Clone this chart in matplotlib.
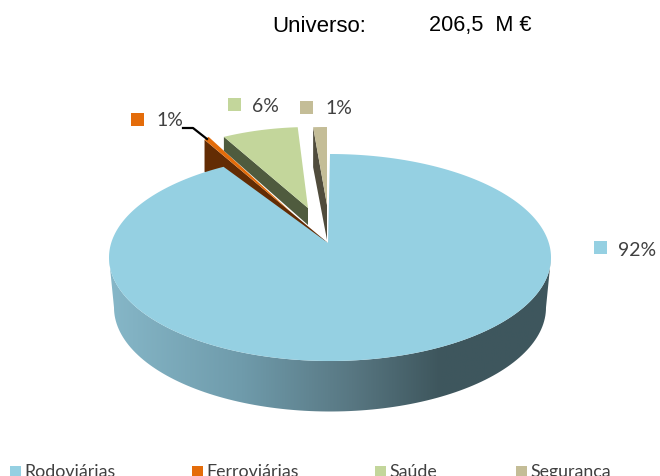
import numpy as np
import matplotlib
matplotlib.use("Agg")
import matplotlib.pyplot as plt
from matplotlib.colors import LinearSegmentedColormap
from matplotlib.patches import Polygon, Rectangle

categories = ["Rodoviárias", "Ferroviárias", "Saúde", "Segurança"]
shares = [92, 1, 6, 1]
share_labels = ["92%", "1%", "6%", "1%"]
title_left = "Universo:"
title_right = "206,5  M €"

top_colors = ["#95D0E2", "#E46C0A", "#C3D69B", "#C4BD97"]
side_colors = [None, "#632C04", "#4F5B3E", "#504C3C"]
label_color = "#404040"

# pie geometry in pixels
cx, cy, rx, ry = 330, 257.5, 221, 103.5
depth = 50
tip = (328, 243)
# arc shift, tip shift, arc squeeze and wall heights of the pulled out slices
shift = {1: (-19, -27), 2: (-12, -27), 3: (-3, -27)}
tip_shift = {1: (-36, -30), 2: (-20, -35), 3: (-1, -38)}
squeeze = {1: 0.33, 2: 0.92, 3: 1.0}
wall_h = {1: (32, 0), 2: (14, 17), 3: (40, 35)}
# label square x, y, text x, text y
label_pos = [(594, 241, 618, 250), (131, 113, 156, 121), (228, 98, 252, 106), (300, 101, 325, 109)]
legend_x = [10, 192, 375, 516]


def arc(a0, a1, n=60):
    # angles are clockwise from 12 o'clock, in percent of the pie
    t = np.radians(np.linspace(a0, a1, n) * 3.6)
    return np.column_stack([cx + rx * np.sin(t), cy - ry * np.cos(t)])


fig = plt.figure(figsize=(6.6, 4.76), dpi=100)
ax = fig.add_axes([0, 0, 1, 1])
ax.axis("off")

ends = np.cumsum(shares)
starts = ends - np.array(shares)

# pulled out slices, side first, then top
for i in [1, 2, 3]:
    pts = arc(starts[i], ends[i], 20)
    pts[:, 0] = pts[0, 0] + (pts[:, 0] - pts[0, 0]) * squeeze[i]
    pts = pts + shift[i]
    v = np.array(tip) + tip_shift[i]
    first = pts[0]
    h0, h1 = wall_h[i]
    if i == 1:
        side = [first, first + [0, h0], tip, v]
    else:
        side = [first, first + [0, h0], v + [0, h1], v]
    ax.add_patch(Polygon(side, closed=True, fc=side_colors[i], ec="none", zorder=2 + i))
    ax.add_patch(Polygon(np.vstack([pts, v]), closed=True, fc=top_colors[i], ec="none", zorder=2.5 + i))

# main slice wall with the dark gradient
t = np.linspace(90, 270, 120)
upper = np.column_stack([cx + rx * np.sin(np.radians(t)), cy - ry * np.cos(np.radians(t))])
lower = np.column_stack([cx + 216 * np.sin(np.radians(t)), cy + depth - 104 * np.cos(np.radians(t))])
wall = Polygon(np.vstack([upper, lower[::-1]]), closed=True, fc="none", ec="none", zorder=6)
ax.add_patch(wall)
cmap = LinearSegmentedColormap.from_list(
    "wall", [(0, "#86B7C8"), (0.3, "#6F9BAB"), (0.55, "#587782"), (0.75, "#3E565D"), (1, "#3E575E")])
img = ax.imshow(np.linspace(0, 1, 256).reshape(1, -1), cmap=cmap, aspect="auto",
                extent=[109, 551, 415, 250], zorder=6)
img.set_clip_path(wall)
ax.set_xlim(0, 660)
ax.set_ylim(476, 0)

# main slice top
pts = arc(starts[0], ends[0], 300)
ax.add_patch(Polygon(np.vstack([pts, tip]), closed=True, fc=top_colors[0], ec="none", zorder=7))

# leader line of the small slice
ax.plot([183, 193, 207], [128, 128, 139], color="black", lw=1.6, zorder=8)

# labels
for i in range(4):
    x, y, tx, ty = label_pos[i]
    ax.add_patch(Rectangle((x, y), 13, 13, fc=top_colors[i], ec="none", zorder=8))
    ax.text(tx, ty, share_labels[i], family="Lato", fontsize=14, color=label_color,
            va="center", ha="left", zorder=9)

# legend, cut by the bottom of the picture as in the original
for i in range(4):
    ax.add_patch(Rectangle((legend_x[i], 466), 11, 11, fc=top_colors[i], ec="none"))
    ax.text(legend_x[i] + 14, 477, categories[i], family="Lato", fontsize=12.8, color=label_color,
            va="baseline", ha="left")

ax.text(272, 26, title_left, family="Liberation Sans", fontsize=16, color="black", va="center", ha="left")
ax.text(429, 26, title_right, family="Liberation Sans", fontsize=15.6, color="black", va="center", ha="left")

fig.savefig("out.png", dpi=100)
